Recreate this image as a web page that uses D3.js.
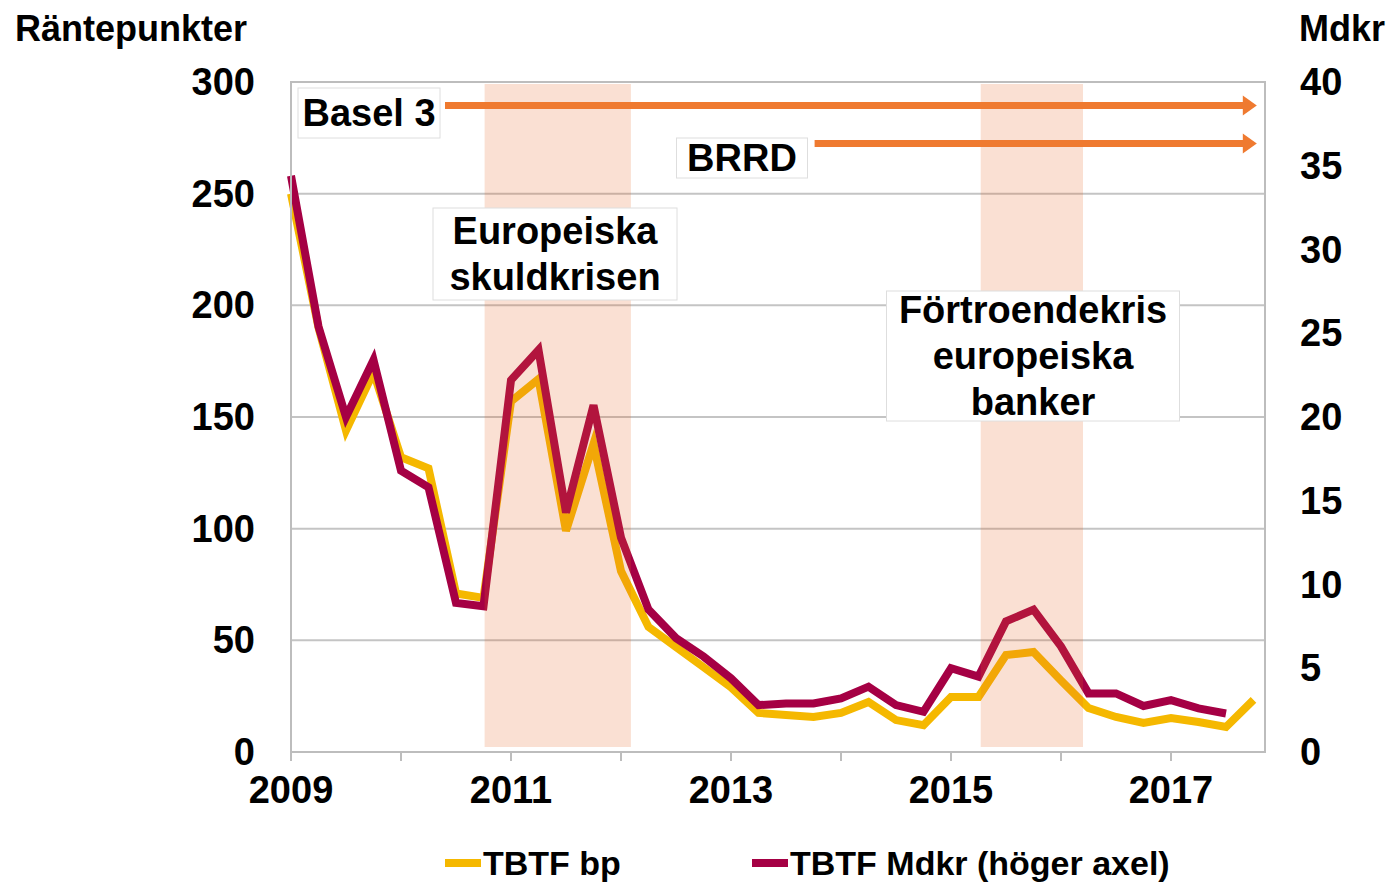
<!DOCTYPE html>
<html>
<head>
<meta charset="utf-8">
<script src="https://cdn.jsdelivr.net/npm/d3@7"></script>
<style>
  body { margin: 0; background: #fff; }
  text { font-family: "Liberation Sans", Arial, sans-serif; font-weight: bold; fill: #000; }
</style>
</head>
<body>
<svg id="chart" width="1389" height="882"></svg>
<script>
// kvartal 2009 Q1 .. 2017 Q4
const quarters = d3.range(36).map(i => 2009 + i / 4);

const tbtfBp = [250, 190, 144, 170, 132, 127, 71, 69, 157, 167, 99, 138,
  81, 56, 47, 38, 29, 17.5, 16.6, 15.7, 17.5, 22.4, 14.3, 12,
  24.6, 24.6, 43.4, 44.8, 32, 19.7, 15.7, 13, 15.2, 13.4, 11.2, 23.3];

const tbtfMdkr = [34.4, 25.4, 20.0, 23.4, 16.8, 15.8, 8.9, 8.7, 22.2, 24.0, 14.3, 20.7,
  12.8, 8.5, 6.8, 5.7, 4.4, 2.8, 2.9, 2.9, 3.2, 3.9, 2.8, 2.4,
  5.0, 4.5, 7.8, 8.5, 6.3, 3.5, 3.5, 2.75, 3.1, 2.6, 2.3, null];

const leftTicks = [0, 50, 100, 150, 200, 250, 300];
const rightTicks = [0, 5, 10, 15, 20, 25, 30, 35, 40];
const yearTicks = d3.range(2009, 2018);
const yearLabels = [2009, 2011, 2013, 2015, 2017];

const crisisBands = [[2010.76, 2012.09], [2015.27, 2016.2]];
const arrowNames = ["Basel 3", "BRRD"];
const arrowStart = [2010.4, 2013.76];
const arrowLevel = [289.5, 272.5];

const svg = d3.select("#chart");
const margin = { left: 291, right: 124, top: 82, bottom: 130 };
const W = 1389, H = 882;
const iw = W - margin.left - margin.right;
const ih = H - margin.top - margin.bottom;

const x = d3.scaleLinear().domain([2009, 2009 + iw / 110]).range([0, iw]);
const yL = d3.scaleLinear().domain([0, 300]).range([ih, 0]);
const yR = d3.scaleLinear().domain([0, 40]).range([ih, 0]);

const g = svg.append("g").attr("transform", `translate(${margin.left},${margin.top})`);

// grid
g.selectAll(".grid").data(leftTicks).join("line")
  .attr("x1", 0).attr("x2", iw)
  .attr("y1", d => yL(d)).attr("y2", d => yL(d))
  .attr("stroke", "#c4c4c4").attr("stroke-width", 2);

// lines
const lineBp = d3.line().x((d, i) => x(quarters[i])).y(d => yL(d));
const lineMd = d3.line().defined(d => d != null).x((d, i) => x(quarters[i])).y(d => yR(d));

g.append("path").datum(tbtfBp).attr("d", lineBp)
  .attr("fill", "none").attr("stroke", "#f5b800").attr("stroke-width", 8);
g.append("path").datum(tbtfMdkr).attr("d", lineMd)
  .attr("fill", "none").attr("stroke", "#a50044").attr("stroke-width", 8);

// shaded periods (ovanpå linjerna, halvgenomskinliga)
g.selectAll(".band").data(crisisBands).join("rect")
  .attr("x", d => x(d[0])).attr("width", d => x(d[1]) - x(d[0]))
  .attr("y", 2).attr("height", ih - 7)
  .attr("fill", "#e66423").attr("opacity", 0.2);

// frame
g.append("rect").attr("width", iw).attr("height", ih)
  .attr("fill", "none").attr("stroke", "#bdbdbd").attr("stroke-width", 2);

// x ticks
g.selectAll(".xt").data(yearTicks).join("line")
  .attr("x1", d => x(d)).attr("x2", d => x(d))
  .attr("y1", ih).attr("y2", ih + 9)
  .attr("stroke", "#bdbdbd").attr("stroke-width", 2);

g.selectAll(".xl").data(yearLabels).join("text")
  .attr("x", d => x(d)).attr("y", ih + 51)
  .attr("text-anchor", "middle").attr("font-size", 38)
  .text(d => d);

// y labels
g.selectAll(".yl").data(leftTicks).join("text")
  .attr("x", -36).attr("y", d => yL(d) + 13)
  .attr("text-anchor", "end").attr("font-size", 38)
  .text(d => d);

g.selectAll(".yr").data(rightTicks).join("text")
  .attr("x", iw + 35).attr("y", d => yR(d) + 13)
  .attr("text-anchor", "start").attr("font-size", 38)
  .text(d => d);

svg.append("text").attr("x", 15).attr("y", 41).attr("font-size", 36).text("Räntepunkter");
svg.append("text").attr("x", 1385).attr("y", 41).attr("text-anchor", "end")
  .attr("font-size", 36).text("Mdkr");

// text boxes
function textBox(lines, cx, cy, w, h) {
  const b = g.append("g");
  b.append("rect").attr("x", cx - w / 2).attr("y", cy - h / 2)
    .attr("width", w).attr("height", h)
    .attr("fill", "#fff").attr("stroke", "#dedede").attr("stroke-width", 1);
  const lh = 46;
  b.selectAll("text").data(lines).join("text")
    .attr("x", cx).attr("y", (d, i) => cy + (i - (lines.length - 1) / 2) * lh + 13)
    .attr("text-anchor", "middle").attr("font-size", 38)
    .text(d => d);
}

// arrows
const arrowColor = "#ef7a30";
arrowNames.forEach((n, i) => {
  const x0 = x(arrowStart[i]), x1 = x(2017.78), ay = yL(arrowLevel[i]);
  g.append("line").attr("x1", x0).attr("x2", x1 - 12)
    .attr("y1", ay).attr("y2", ay)
    .attr("stroke", arrowColor).attr("stroke-width", 7);
  g.append("path")
    .attr("d", `M${x1 - 14},${ay - 10}L${x1},${ay}L${x1 - 14},${ay + 10}Z`)
    .attr("fill", arrowColor);
});

textBox(["Basel 3"], 369 - margin.left, 113 - margin.top, 142, 50);
textBox(["BRRD"], 742 - margin.left, 158 - margin.top, 131, 40);
textBox(["Europeiska", "skuldkrisen"], 555 - margin.left, 254 - margin.top, 244, 92);
textBox(["Förtroendekris", "europeiska", "banker"], 1033 - margin.left, 356 - margin.top, 293, 130);

// legend
const legend = svg.append("g").attr("transform", "translate(0,863)");
const legItems = [
  { name: "TBTF bp", color: "#f5b800", x: 445 },
  { name: "TBTF Mdkr (höger axel)", color: "#a50044", x: 752 }
];
legItems.forEach(d => {
  legend.append("rect").attr("x", d.x).attr("y", -4).attr("width", 36).attr("height", 8).attr("fill", d.color);
  legend.append("text").attr("x", d.x + 38).attr("y", 12).attr("font-size", 34).text(d.name);
});
</script>
</body>
</html>
